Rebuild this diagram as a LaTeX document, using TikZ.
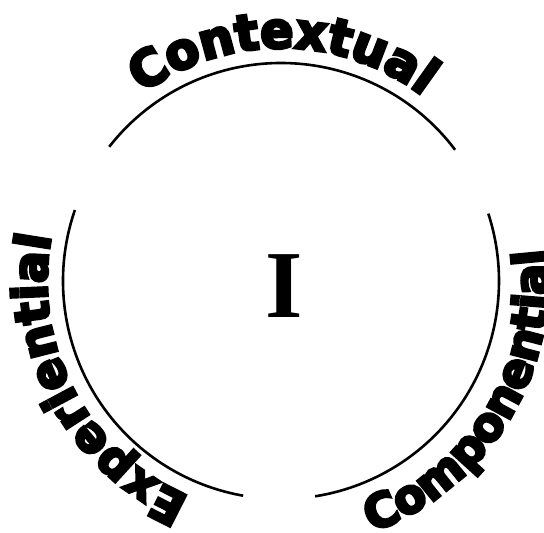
\documentclass[tikz,border=0pt]{standalone}
\usepackage{fontspec}
\usetikzlibrary{decorations.text}
\newfontfamily\arcfont[FakeStretch=0.98,FakeBold=6]{DejaVu Sans Bold}
\newfontfamily\bigserif{Liberation Serif}
\tikzset{
  ring/.style={line width=2.6pt, black},
  arclabel/.style={decorate, decoration={text along path, text align=center, text={#1}}}
}
\begin{document}
\begin{tikzpicture}[x=1pt,y=1pt]
  \useasboundingbox (-281,-252) rectangle (263,281);
  % circle arcs
  \draw[ring] (37:218pt) arc[start angle=37, end angle=142, radius=218pt];
  \draw[ring] (161:218pt) arc[start angle=161, end angle=260, radius=218pt];
  \draw[ring] (-81:218pt) arc[start angle=-81, end angle=18, radius=218pt];
  % labels along the circle
  \path[arclabel={|\arcfont\fontsize{50}{56}\selectfont|Contextual}]
    (149.5:233pt) arc[start angle=149.5, end angle=29.5, radius=233pt];
  \path[arclabel={|\arcfont\fontsize{48}{54}\selectfont|Experiential}]
    (268:234pt) arc[start angle=268, end angle=148, radius=234pt];
  \path[arclabel={|\arcfont\fontsize{47}{54}\selectfont|Componential}]
    (268.5:267pt) arc[start angle=268.5, end angle=388.5, radius=267pt];
  % centre letter
  \node[inner sep=0pt, font=\bigserif\bfseries\fontsize{96}{100}\selectfont] (I) at (3.5,-5) {I};
\end{tikzpicture}
\end{document}
